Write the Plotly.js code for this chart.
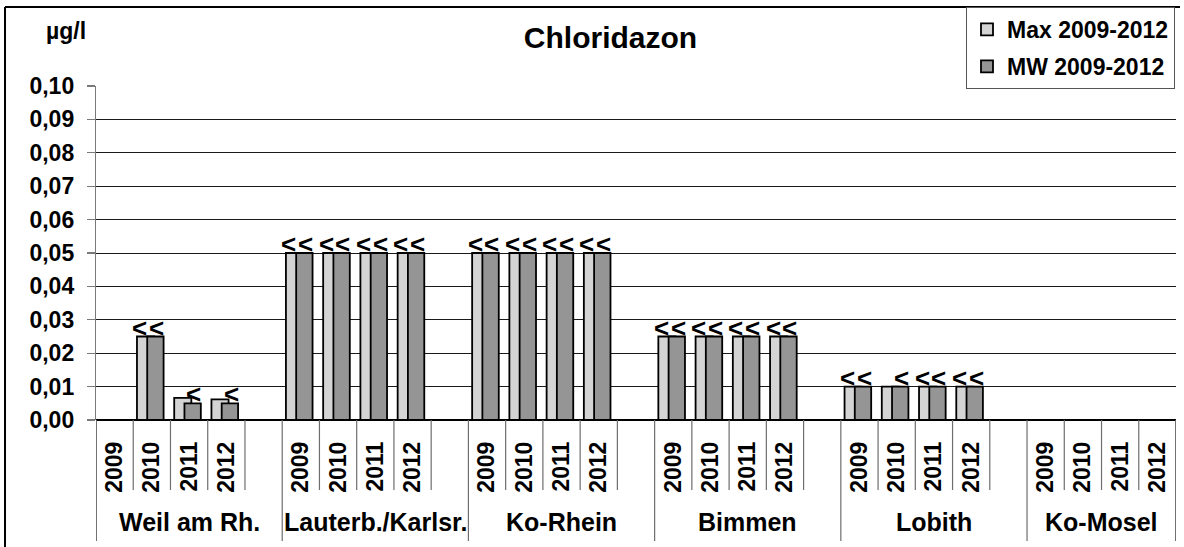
<!DOCTYPE html>
<html>
<head>
<meta charset="utf-8">
<script src="https://cdn.plot.ly/plotly-3.0.1.min.js"></script>
<style>html,body{margin:0;padding:0;background:#fff;}#chart{width:1184px;height:547px;}</style>
</head>
<body>
<div id="chart"></div>
<script>
// ---- data ----
const groups = ['Weil am Rh.', 'Lauterb./Karlsr.', 'Ko-Rhein', 'Bimmen', 'Lobith', 'Ko-Mosel'];
const years = ['2009', '2010', '2011', '2012'];
const seriesNames = ['Max 2009-2012', 'MW 2009-2012'];
// values in group order, 4 years each
const maxValues = [
  null, 0.025, 0.0066, 0.0062,
  0.05, 0.05, 0.05, 0.05,
  0.05, 0.05, 0.05, 0.05,
  0.025, 0.025, 0.025, 0.025,
  0.01, 0.01, 0.01, 0.01,
  null, null, null, null
];
const mwValues = [
  null, 0.025, 0.005, 0.005,
  0.05, 0.05, 0.05, 0.05,
  0.05, 0.05, 0.05, 0.05,
  0.025, 0.025, 0.025, 0.025,
  0.01, 0.01, 0.01, 0.01,
  null, null, null, null
];
const maxFlags = [
  '', '<', '', '',
  '<', '<', '<', '<',
  '<', '<', '<', '<',
  '<', '<', '<', '<',
  '<', '', '<', '<',
  '', '', '', ''
];
const mwFlags = [
  '', '<', '<', '<',
  '<', '<', '<', '<',
  '<', '<', '<', '<',
  '<', '<', '<', '<',
  '<', '<', '<', '<',
  '', '', '', ''
];
const yUnit = 'µg/l';
const chartTitle = 'Chloridazon';

// ---- layout helpers ----
const FONT = 'Liberation Sans, Arial, sans-serif';
const slotsPerGroup = years.length + 1; // one empty slot after each group
const nSlots = groups.length * slotsPerGroup - 1;
const xs = [], yearText = [];
groups.forEach((g, gi) => years.forEach((y, yi) => { xs.push(gi * slotsPerGroup + yi); yearText.push(y); }));

const PL = 96, PR = 1176, PT = 86, PB = 420;
const px2x = p => (p - PL) / (PR - PL);
const px2y = p => (PB - p) / (PB - PT);

const traces = [
  {type: 'bar', name: seriesNames[0], x: xs, y: maxValues, width: 0.46, offset: -0.40,
   marker: {color: '#D4D4D4', line: {color: '#000', width: 1.8}}, hoverinfo: 'skip', legendgroup: 'a'},
  {type: 'bar', name: seriesNames[1], x: xs, y: mwValues, width: 0.44, offset: -0.125,
   marker: {color: '#959595', line: {color: '#000', width: 1.8}}, hoverinfo: 'skip', legendgroup: 'b'}
];

const annotations = [];
const labelFont = {family: FONT, size: 26, color: '#000', weight: 700};
function addFlags(vals, flags, dx) {
  vals.forEach((v, i) => {
    if (flags[i] && v != null) {
      annotations.push({x: xs[i] + dx, y: v, xref: 'x', yref: 'y', text: flags[i], showarrow: false,
        xanchor: 'center', yanchor: 'bottom', yshift: -8, font: labelFont});
    }
  });
}
addFlags(maxValues, maxFlags, -0.32);
addFlags(mwValues, mwFlags, 0.13);

// group labels
groups.forEach((g, gi) => {
  const left = gi * slotsPerGroup - 0.5;
  const right = Math.min(left + slotsPerGroup, nSlots - 0.5);
  annotations.push({x: (left + right) / 2, y: px2y(522), xref: 'x', yref: 'paper', text: g, showarrow: false,
    xanchor: 'center', yanchor: 'middle', font: {family: FONT, size: 25, color: '#000', weight: 700}});
});
// unit label
annotations.push({x: px2x(65.5), y: px2y(31), xref: 'paper', yref: 'paper', text: yUnit, showarrow: false,
  xanchor: 'center', yanchor: 'middle', font: {family: FONT, size: 23, color: '#000', weight: 700}});

// slot boundaries / group separators
const shapes = [];
for (let b = 0; b <= nSlots; b++) {
  const xb = Math.min(Math.max(b - 0.5, -0.49), nSlots - 0.51);
  const isGroup = (b % slotsPerGroup === 0) || b === nSlots;
  shapes.push({type: 'line', xref: 'x', yref: 'paper', x0: xb, x1: xb, y0: 0,
    y1: isGroup ? px2y(541) : px2y(490), line: {color: '#6e6e6e', width: 1.2}});
}
// outer frame (left + top)
shapes.push({type: 'line', xref: 'paper', yref: 'paper', x0: px2x(5), x1: px2x(5), y0: px2y(7), y1: px2y(560), line: {color: '#000', width: 2}});
shapes.push({type: 'line', xref: 'paper', yref: 'paper', x0: px2x(5), x1: px2x(1180), y0: px2y(7), y1: px2y(7), line: {color: '#000', width: 2}});

const layout = {
  width: 1184, height: 547,
  margin: {l: PL, r: 1184 - PR, t: PT, b: 547 - PB, autoexpand: false},
  paper_bgcolor: '#fff', plot_bgcolor: '#fff',
  font: {family: FONT, color: '#000', weight: 700},
  separators: ',.',
  barmode: 'overlay',
  title: {text: chartTitle, x: 610.5 / 1184, xref: 'container', xanchor: 'center',
    y: 1 - 37 / 547, yref: 'container', yanchor: 'middle',
    font: {family: FONT, size: 30, color: '#000', weight: 700}},
  xaxis: {range: [-0.5, nSlots - 0.5], tickvals: xs, ticktext: yearText, tickangle: -90,
    ticks: '', showgrid: false, zeroline: false, showline: false, ticklabelstandoff: 16,
    tickfont: {family: FONT, size: 23, color: '#000', weight: 700}, fixedrange: true},
  yaxis: {range: [0, 0.1], dtick: 0.01, tick0: 0, tickformat: '.2f', ticks: 'outside', ticklen: 8,
    tickcolor: '#7a7a7a', tickwidth: 1.2, showline: true, linecolor: '#7a7a7a', linewidth: 1.2,
    showgrid: true, gridcolor: '#1a1a1a', gridwidth: 1, zeroline: true, zerolinecolor: '#000', zerolinewidth: 1.5,
    ticklabelstandoff: 8, tickfont: {family: FONT, size: 23, color: '#000', weight: 700}, fixedrange: true},
  legend: {x: px2x(1175), xanchor: 'right', y: px2y(7), yanchor: 'top', xref: 'paper', yref: 'paper',
    bgcolor: '#fff', bordercolor: '#555', borderwidth: 1, traceorder: 'grouped', tracegroupgap: 4,
    itemwidth: 30, font: {family: FONT, size: 23, color: '#000', weight: 700}},
  annotations: annotations,
  shapes: shapes,
  showlegend: true
};

Plotly.newPlot('chart', traces, layout, {displayModeBar: false, staticPlot: true});
</script>
</body>
</html>
